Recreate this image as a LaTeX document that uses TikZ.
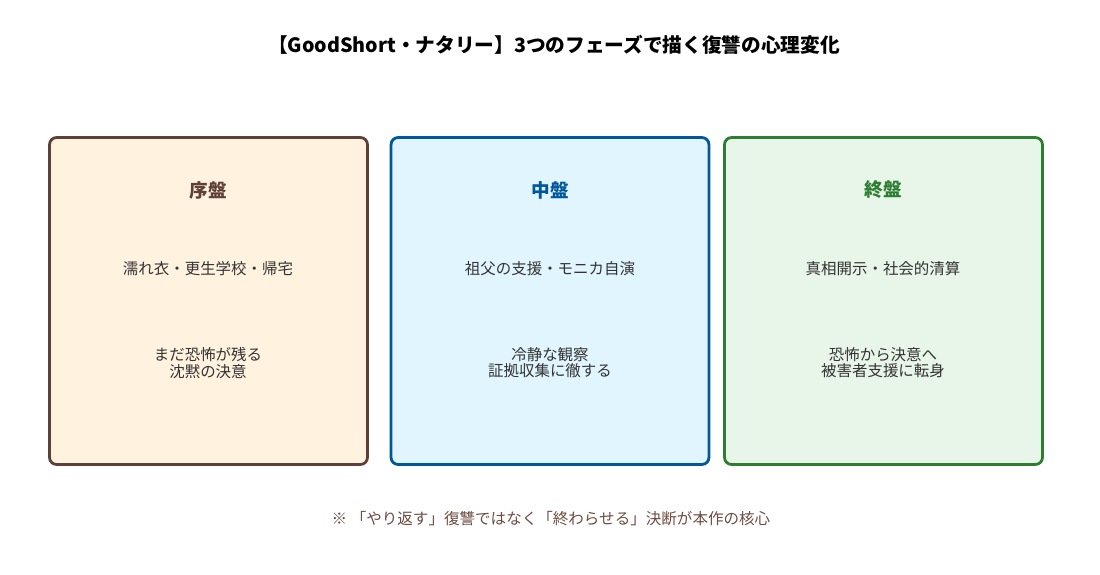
\documentclass[tikz,border=0pt]{standalone}
\usepackage{fontspec}
\setmainfont{Noto Sans CJK JP}
\usepackage{tikz}
\usetikzlibrary{positioning}

\definecolor{earlyline}{HTML}{5D4037}
\definecolor{earlyfill}{HTML}{FFF3E0}
\definecolor{midline}{HTML}{01579B}
\definecolor{midfill}{HTML}{E1F5FE}
\definecolor{lateline}{HTML}{2E7D32}
\definecolor{latefill}{HTML}{E8F5E9}
\definecolor{bodytext}{HTML}{333333}
\definecolor{notetext}{HTML}{6D4C41}

\begin{document}
\begin{tikzpicture}[x=0.02cm, y=-0.02cm,
      phase/.style={draw, line width=1.6pt, rounded corners=4pt, minimum width=6.36cm, minimum height=6.54cm, inner sep=0pt},
      head/.style={font=\fontsize{10.6}{13}\selectfont\bfseries},
      body/.style={font=\fontsize{8.8}{9.2}\selectfont, text=bodytext, align=center, inner sep=0pt}
    ]
      \useasboundingbox (0,0) rectangle (1100,575);

      % Title
      \node[font=\fontsize{11.2}{13}\selectfont\bfseries] (title) at (554,45) {【GoodShort・ナタリー】3つのフェーズで描く復讐の心理変化};

      % Phase boxes
      \node[phase, draw=earlyline, fill=earlyfill] (early) at (208.5,301) {};
      \node[phase, draw=midline, fill=midfill] (mid) at (550,301) {};
      \node[phase, draw=lateline, fill=latefill] (late) at (883.5,301) {};

      % Headings
      \node[head, text=earlyline] (earlyhead) at (208,190) {序盤};
      \node[head, text=midline] (midhead) at (550,190) {中盤};
      \node[head, text=lateline] (latehead) at (883,190) {終盤};

      % Events
      \node[body] (earlyevent) at (208,269) {濡れ衣・更生学校・帰宅};
      \node[body] (midevent) at (550,269) {祖父の支援・モニカ自演};
      \node[body] (lateevent) at (883,269) {真相開示・社会的清算};

      % Feelings
      \node[body] (earlyfeel) at (208,363) {まだ恐怖が残る\\沈黙の決意};
      \node[body] (midfeel) at (550,363) {冷静な観察\\証拠収集に徹する};
      \node[body] (latefeel) at (883,363) {恐怖から決意へ\\被害者支援に転身};

      % Note
      \node[font=\fontsize{8.85}{10}\selectfont, text=notetext] (note) at (551,519) {※ 「やり返す」復讐ではなく「終わらせる」決断が本作の核心};
    \end{tikzpicture}
\end{document}
